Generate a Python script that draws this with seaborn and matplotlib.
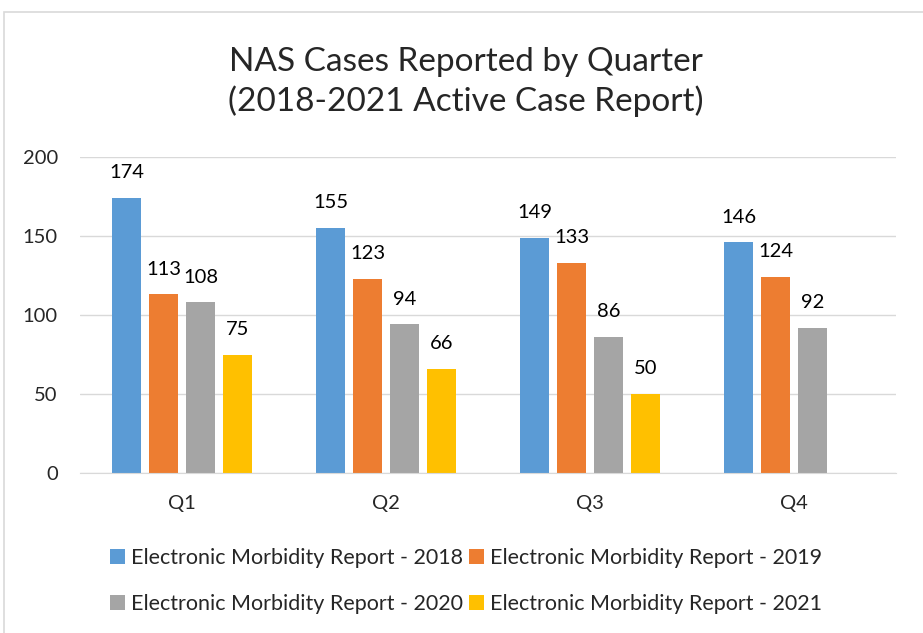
import numpy as np
import pandas as pd
import matplotlib as mpl
import matplotlib.pyplot as plt
import seaborn as sns
from matplotlib.patches import Rectangle

quarters = ["Q1", "Q2", "Q3", "Q4"]
series = ["Electronic Morbidity Report - 2018", "Electronic Morbidity Report - 2019",
          "Electronic Morbidity Report - 2020", "Electronic Morbidity Report - 2021"]
cases_2018 = [174, 155, 149, 146]
cases_2019 = [113, 123, 133, 124]
cases_2020 = [108, 94, 86, 92]
cases_2021 = [75, 66, 50, np.nan]
colors = ["#5B9BD5", "#ED7D31", "#A5A5A5", "#FFC000"]

rows = []
for name, vals in zip(series, [cases_2018, cases_2019, cases_2020, cases_2021]):
    for q, v in zip(quarters, vals):
        rows.append({"Quarter": q, "Series": name, "Cases": v})
df = pd.DataFrame(rows)

sns.set_style("white")
plt.rcParams['font.family'] = ['Lato', 'DejaVu Sans']

fig = plt.figure(figsize=(9.23, 6.33), dpi=100)
ax = fig.add_axes([80/923, 1-473/633, 816/923, 316/633])

sns.barplot(ax=ax, data=df, x="Quarter", y="Cases", hue="Series", palette=colors,
            width=0.725, gap=0.2, saturation=1, linewidth=0, err_kws={"linewidth": 0})

for cont in ax.containers:
    labels = ["" if np.isnan(v) else f"{int(v)}" for v in cont.datavalues]
    ax.bar_label(cont, labels=labels, padding=12, fontsize=14.5, color="#000000")

ax.set_ylim(0, 200)
ax.set_xlim(-0.5, 3.5)
ax.yaxis.set_major_locator(mpl.ticker.MultipleLocator(50))
ax.grid(axis="y", color="#D9D9D9", linewidth=1)
ax.set_axisbelow(True)
for s in ["top", "right", "left"]:
    ax.spines[s].set_visible(False)
ax.spines["bottom"].set_color("#D9D9D9")
ax.tick_params(axis="y", length=0, labelsize=14.5, pad=16)
ax.tick_params(axis="x", length=0, labelsize=14.5, pad=16)
ax.set_xlabel("")
ax.set_ylabel("")

handles, labs = ax.get_legend_handles_labels()
ax.legend_.remove()
order = [0, 2, 1, 3]
fig.legend([handles[i] for i in order], [labs[i] for i in order], loc="center",
           bbox_to_anchor=(466/923, 1-581/633), ncol=2,
           frameon=False, fontsize=15.5, handlelength=0.7, handleheight=0.7,
           handletextpad=0.3, columnspacing=0.25, labelspacing=1.2)

fig.text(466/923, 1-82/633, "NAS Cases Reported by Quarter\n(2018-2021 Active Case Report)",
         ha="center", va="center", fontsize=24, linespacing=1.35)

fig.patches.append(Rectangle((4/923, -0.01), 1.0, 1-12/633 + 0.01, transform=fig.transFigure,
                             fill=False, edgecolor="#D9D9D9", linewidth=1.2))

plt.savefig("out.png", dpi=100)
